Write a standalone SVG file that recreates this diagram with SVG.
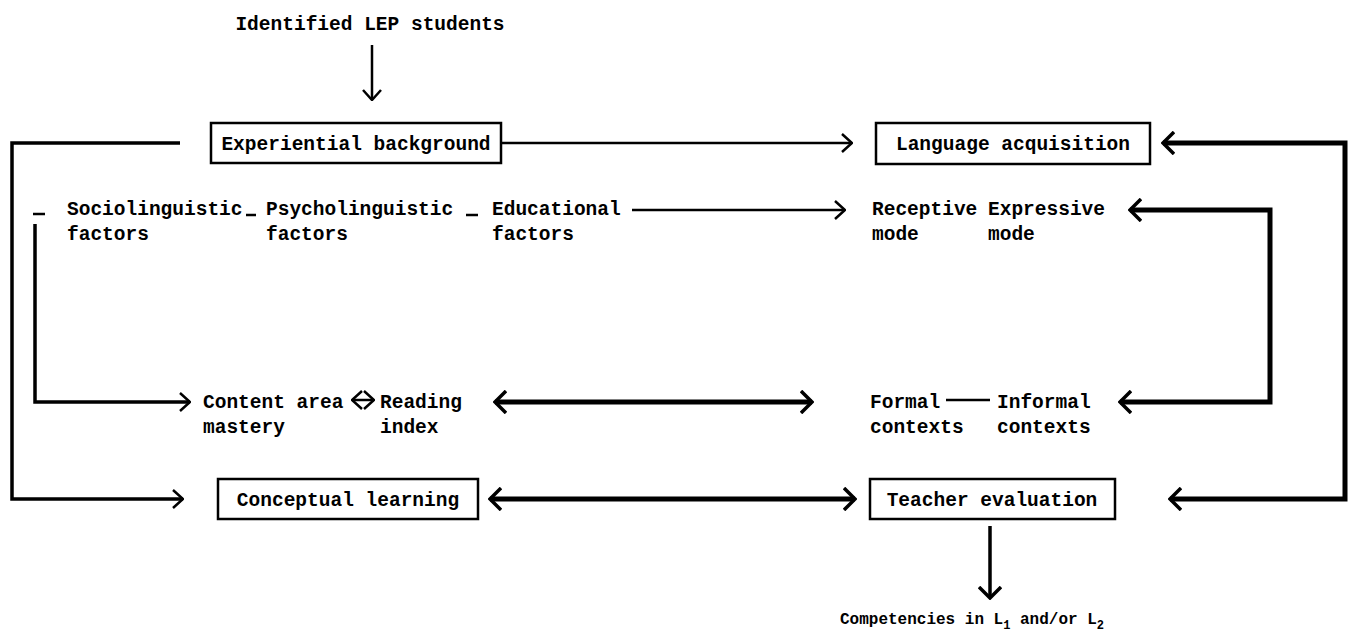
<svg xmlns="http://www.w3.org/2000/svg" width="1352" height="639" viewBox="0 0 1352 639">
<style>
text{font-family:"Liberation Mono","DejaVu Sans Mono",monospace;font-weight:bold;font-size:19.5px;fill:#000}
text.small{font-size:16px}
.sub{font-size:12px}
.box{fill:#fff;stroke:#000;stroke-width:2.5}
.thin{fill:none;stroke:#000;stroke-width:2.5}
.thick{fill:none;stroke:#000;stroke-width:5}
.mid{fill:none;stroke:#000;stroke-width:3.5}
</style>
<defs>
<marker id="a1" markerUnits="userSpaceOnUse" viewBox="0 0 12 20" markerWidth="12" markerHeight="20" refX="11" refY="10" orient="auto-start-reverse">
<path d="M1,1 L11,10 L1,19" fill="none" stroke="#000" stroke-width="2.5"/>
</marker>
<marker id="a2" markerUnits="userSpaceOnUse" viewBox="0 0 14 24" markerWidth="14" markerHeight="24" refX="12" refY="12" orient="auto-start-reverse">
<path d="M1,1 L12,12 L1,23" fill="none" stroke="#000" stroke-width="3.5"/>
</marker>
</defs>
<g id="connectors">
<line class="thin" x1="372" y1="45" x2="372" y2="100" marker-end="url(#a1)"/>
<polyline class="mid" points="180,143 12,143 12,499 183,499" marker-end="url(#a1)"/>
<line class="thin" x1="497" y1="143" x2="852" y2="143" marker-end="url(#a1)"/>
<polyline class="thick" points="1163,143 1345,143 1345,499 1170,499" marker-start="url(#a2)" marker-end="url(#a2)"/>
<line class="thin" x1="33" y1="214" x2="45" y2="214"/>
<line class="thin" x1="246" y1="215" x2="256" y2="215"/>
<line class="thin" x1="466" y1="215" x2="478" y2="215"/>
<line class="thin" x1="632" y1="210" x2="845" y2="210" marker-end="url(#a1)"/>
<polyline class="thick" points="1130,210 1270,210 1270,402 1120,402" marker-start="url(#a2)" marker-end="url(#a2)"/>
<polyline class="mid" points="35,224 35,402 190,402" marker-end="url(#a1)"/>
<line class="thin" x1="352" y1="400" x2="374" y2="400" marker-start="url(#a1)" marker-end="url(#a1)"/>
<line class="thick" x1="495" y1="402" x2="812" y2="402" marker-start="url(#a2)" marker-end="url(#a2)"/>
<line class="thin" x1="946" y1="400" x2="990" y2="400"/>
<line class="thick" x1="490" y1="499" x2="855" y2="499" marker-start="url(#a2)" marker-end="url(#a2)"/>
<line class="mid" x1="990" y1="526" x2="990" y2="598" marker-end="url(#a2)"/>
</g>
<g id="n-title"><text x="370" y="30" text-anchor="middle">Identified LEP students</text></g>
<g id="n-experiential"><rect class="box" x="211" y="123" width="290" height="40"/><text x="356" y="150" text-anchor="middle">Experiential background</text></g>
<g id="n-language"><rect class="box" x="876" y="123" width="274" height="41"/><text x="1013" y="150" text-anchor="middle">Language acquisition</text></g>
<g id="n-socio"><text x="67" y="215">Sociolinguistic</text><text x="67" y="240">factors</text></g>
<g id="n-psycho"><text x="266" y="215">Psycholinguistic</text><text x="266" y="240">factors</text></g>
<g id="n-edu"><text x="492" y="215">Educational</text><text x="492" y="240">factors</text></g>
<g id="n-receptive"><text x="872" y="215">Receptive</text><text x="872" y="240">mode</text></g>
<g id="n-expressive"><text x="988" y="215">Expressive</text><text x="988" y="240">mode</text></g>
<g id="n-content"><text x="203" y="408">Content area</text><text x="203" y="433">mastery</text></g>
<g id="n-reading"><text x="380" y="408">Reading</text><text x="380" y="433">index</text></g>
<g id="n-formal"><text x="870" y="408">Formal</text><text x="870" y="433">contexts</text></g>
<g id="n-informal"><text x="997" y="408">Informal</text><text x="997" y="433">contexts</text></g>
<g id="n-conceptual"><rect class="box" x="218" y="479" width="260" height="40"/><text x="348" y="506" text-anchor="middle">Conceptual learning</text></g>
<g id="n-teacher"><rect class="box" x="870" y="479" width="245" height="40"/><text x="992" y="506" text-anchor="middle">Teacher evaluation</text></g>
<g id="n-competencies"><text class="small" x="972" y="624" text-anchor="middle">Competencies in L<tspan class="sub" dy="5">1</tspan><tspan dy="-5"> and/or L</tspan><tspan class="sub" dy="5">2</tspan></text></g>
</svg>
